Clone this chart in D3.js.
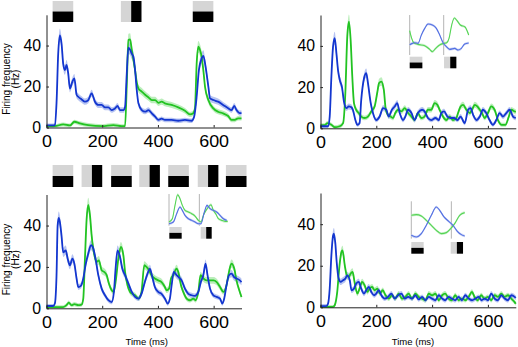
<!DOCTYPE html>
<html>
<head>
<meta charset="utf-8">
<script src="https://cdn.jsdelivr.net/npm/d3@7"></script>
<style>
body { margin: 0; background: #fff; }
svg { display: block; font-family: "Liberation Sans", Arial, sans-serif; }
</style>
</head>
<body>
<svg id="fig" width="518" height="347"></svg>
<script>
// ---- data: [time (ms), firing rate (Hz)] ----
var tlBlue = [[0,1],[25,1],[30,1.2],[36,12],[42,36],[48,45],[54,41],[60,31],[66,28],[72,30.5],[78,26.4],[84,19],[93,22.4],[100,24],[108,16],[114,15],[126,13.7],[138,12.6],[150,13.4],[162,16.7],[174,12.6],[186,11],[198,11],[210,9.8],[222,9.8],[234,8.5],[246,9.3],[255,10.5],[264,8.5],[276,8.5],[282,10],[288,26],[294,39],[300,38],[306,36],[312,34.5],[318,28],[324,18.3],[330,11.8],[342,8.5],[354,7.7],[366,8.5],[378,6.9],[390,5.3],[402,3.7],[413,4.3],[425,3.7],[449,3.7],[473,3.3],[497,3.7],[521,3.3],[530,5.3],[539,15],[547,28],[557,33.7],[563,35],[571,29.7],[581,20],[587,14.2],[599,13.4],[616,12.6],[634,11],[652,9.4],[664,8.5],[674,10.5],[682,8.5],[694,7],[700,7]];
var tlGreen = [[0,0.7],[30,0.7],[60,1.5],[84,1],[100,2.8],[120,2],[150,1.2],[200,0.7],[240,1.2],[270,0.7],[282,0.7],[288,20],[294,42.7],[300,43],[306,38],[312,33],[318,28],[324,22],[330,19],[342,17.5],[354,16],[366,14.7],[378,13.4],[390,13.4],[402,12],[413,12.6],[425,11.8],[449,11],[473,9.8],[497,8.2],[515,6.4],[527,7],[533,9.4],[539,31],[545,39.4],[551,37.8],[557,34.5],[563,28],[569,20],[581,13.4],[599,9.3],[616,7.7],[634,6.9],[652,5.6],[664,3.7],[676,3.7],[688,4.5],[700,4.5]];

var trBlue = [[0,1],[27,1],[33,5.7],[39,25],[45,39.7],[51,43.8],[57,36.5],[63,28],[69,23.5],[77,20],[84,13],[93,9.8],[101,10.6],[110,10.3],[116,9],[125,4],[132,1.7],[140,2.5],[146,13.8],[156,24.3],[164,26.8],[170,22],[180,12.2],[188,7.4],[200,4],[212,5.7],[224,9.8],[236,9],[244,5.7],[256,9],[266,10.6],[275,12.2],[284,7.4],[296,4],[304,5.7],[314,9],[326,7.4],[337,4],[349,7.4],[364,9],[373,8.2],[385,5],[397,4],[412,5],[424,4],[433,7.4],[443,8.2],[455,5.7],[467,5],[479,5],[491,4],[502,5.7],[517,2.5],[529,9],[538,9.8],[547,6.5],[559,4],[571,5.7],[582,9],[594,7.4],[606,4],[618,1.7],[630,4],[642,7.4],[654,5.7],[666,7.4],[678,9],[690,5.7],[700,5]];
var trGreen = [[0,1.5],[15,1.5],[25,2.5],[39,1.7],[51,0.5],[69,1],[81,2.5],[89,17],[96,44.6],[102,51.8],[108,43],[114,25],[120,12.2],[128,9],[137,7.4],[146,5.7],[158,5],[170,5.7],[182,8.2],[194,10.6],[203,17],[210,22],[218,22.7],[227,18.6],[234,9],[242,6.5],[251,5.7],[260,5],[268,7.4],[278,9],[290,8.2],[302,9.8],[314,7.4],[326,5.7],[337,4],[349,7.4],[361,5],[373,5.7],[385,9],[397,9],[409,12.2],[419,11.4],[427,9],[439,5.7],[451,4],[463,5.7],[475,4],[487,5],[493,7.4],[502,10.6],[511,11.4],[523,9],[535,7.4],[543,9],[553,11.4],[562,10.6],[571,9],[579,7.4],[588,5],[600,7.4],[612,10.6],[624,9],[636,4],[650,1.7],[663,1.7],[675,5.7],[684,9],[696,8.2],[700,8]];

var blBlue = [[0,1.1],[24,1.1],[30,2.3],[36,16],[40,40],[44,43.7],[48,41.8],[54,35],[60,27],[69,28],[76,24],[84,20.8],[93,24],[100,21.6],[108,14.4],[114,10.3],[124,11],[132,14.4],[140,20.8],[150,26.5],[160,30.5],[168,28.9],[176,24],[186,16],[198,9.5],[210,6.3],[222,3.9],[234,3],[242,7.9],[248,19.2],[255,28],[264,24.8],[272,19.2],[282,16],[294,12],[306,7.9],[318,5.5],[330,4.7],[341,7],[353,12.7],[365,17.6],[371,19.2],[380,15],[389,10.3],[401,7.9],[413,7],[425,4.7],[435,2.3],[443,4.7],[449,11],[457,17.6],[467,16],[475,15],[485,13.5],[497,9.5],[509,7],[521,6.3],[533,6],[545,7.9],[554,12.7],[563,16],[571,21.6],[578,16],[587,9.5],[599,6.3],[611,5.5],[623,4.7],[631,2.3],[638,4.7],[646,11],[655,16],[664,16.8],[674,15],[682,14.4],[694,13.5],[700,12.7]];
var blGreen = [[0,0.6],[60,0.6],[72,1.5],[80,2.7],[90,1.5],[100,2],[114,1.5],[126,1.8],[132,4.7],[138,24],[144,43],[150,50],[156,45],[162,35.3],[172,25.6],[180,22.4],[188,23.2],[198,18.4],[207,17.6],[216,16],[224,12],[234,8.7],[241,7.9],[248,12.7],[258,24],[267,29.7],[276,25.6],[282,17.6],[291,11],[300,7.9],[308,7],[318,6.3],[330,4.7],[341,7.9],[351,20.8],[359,20],[368,18.4],[377,16],[389,14.4],[401,13.5],[413,12.7],[425,10.3],[431,8.7],[440,9.5],[447,14.4],[455,16],[467,19.2],[473,17.6],[483,11],[491,7.9],[503,4.7],[515,3.9],[527,4.7],[535,3.9],[545,7.9],[553,16],[563,14.4],[575,13.5],[587,13.5],[599,13.5],[611,12.7],[623,10.3],[635,7.9],[646,11],[655,17.6],[664,21.6],[674,19.2],[682,13.5],[694,7.9],[700,5.5]];

var brBlue = [[0,0.6],[21,0.6],[27,1.7],[33,9],[39,25],[45,34.5],[48,35.5],[53,31],[58,21.8],[65,13.8],[72,12.2],[81,13],[89,13.8],[96,15.4],[105,13],[111,8.2],[120,9],[128,11.4],[137,12.2],[146,9],[156,6.6],[164,8.2],[173,9.8],[182,7.4],[192,5.8],[200,6.6],[209,8.2],[218,5.8],[230,4.2],[242,5],[254,6.6],[266,4.2],[278,5.8],[290,6.6],[302,4.2],[314,5],[328,4.2],[340,5.8],[352,3.8],[364,5],[376,3.4],[388,5],[400,4.2],[412,3.4],[424,5.8],[436,4.2],[447,3.4],[459,5],[471,4.2],[483,3.4],[495,5],[507,3.4],[519,5.8],[531,4.2],[543,3.4],[555,4.2],[567,5],[577,3.4],[588,4.2],[600,3.4],[612,6.6],[624,4.2],[636,3.4],[648,5.8],[660,4.2],[672,3.4],[684,5.8],[696,5],[700,4.5]];
var brGreen = [[0,0.2],[45,0.2],[51,1],[60,7.4],[67,18.6],[75,26.6],[79,27.4],[87,20.2],[94,15.4],[101,14.6],[108,16.2],[115,17],[122,12.2],[132,6.6],[140,9],[149,12.2],[158,10.6],[168,7.4],[176,9],[185,9.8],[194,8.2],[204,9],[213,6.6],[223,8.2],[233,5.8],[245,4.2],[256,5.8],[268,4.2],[280,6.6],[292,4.2],[304,5],[316,6.6],[328,4.2],[340,6.6],[352,5],[364,4.2],[376,3.4],[388,6.6],[400,5.8],[412,6.6],[424,3.4],[436,5.8],[447,6.6],[459,4.2],[471,3.4],[483,5.8],[495,3.4],[507,4.2],[519,3.4],[531,5],[543,7.4],[552,5],[564,3.4],[576,5.8],[588,4.2],[600,5],[612,3.4],[624,5.8],[636,5],[648,6.6],[660,5],[672,5.8],[684,4.2],[696,2.5],[700,1.7]];

// stimulus frames: [onset, offset, layout] tb = grey over black, lr = grey left of black
var tlStim = [[22,96,"tb"],[267,341,"lr"],[525,599,"tb"]];
var blStim = [[22,96,"tb"],[126,200,"lr"],[232,306,"tb"],[333,407,"lr"],[437,511,"tb"],[543,617,"lr"],[644,718,"tb"]];

// insets: [time (ms), relative rate]
var trInsetBlue = [[0,36],[8,40],[15,42],[25,40],[35,65],[45,85],[55,98],[68,95],[80,85],[90,65],[100,42],[110,30],[120,22],[135,25],[145,20],[155,25],[165,38],[177,41]];
var trInsetGreen = [[0,78],[6,55],[12,42],[25,37],[45,33],[60,22],[68,15],[78,25],[91,36],[103,40],[111,42],[118,55],[126,95],[134,116],[142,108],[152,95],[166,89],[177,65]];
var trInsetMarks = [0,102];
var trInsetStim = [[0,38,"tb"],[103,140,"lr"]];

var blInsetGreen = [[0,20],[10,30],[18,70],[26,102],[33,90],[40,70],[48,55],[58,50],[68,45],[78,38],[88,25],[96,20],[103,40],[111,55],[118,65],[126,72],[133,55],[140,45],[148,30],[158,25],[168,22],[176,22]];
var blInsetBlue = [[0,15],[13,20],[23,45],[33,65],[40,55],[48,40],[58,30],[68,25],[78,20],[88,15],[96,15],[106,50],[114,70],[123,60],[133,55],[143,50],[153,40],[163,30],[173,25]];
var blInsetMarks = [0,91];
var blInsetStim = [[1,38,"tb"],[95,128,"lr"]];

var brInsetGreen = [[0,75],[15,77],[30,73],[45,60],[60,45],[75,30],[90,20],[105,23],[118,35],[130,50],[145,75],[160,83]];
var brInsetBlue = [[0,15],[15,10],[30,20],[45,45],[60,75],[75,100],[85,90],[98,70],[112,57],[125,45],[138,27],[150,17],[160,13]];
var brInsetMarks = [0,120];
var brInsetStim = [[0,37,"tb"],[118,155,"lr"]];

var xTicks = [0, 200, 400, 600];
var yTicks = [0, 20, 40];

// ---- style ----
var colors = {
    blue: "#1336cf", green: "#22c322",
    blueBand: "#9fb0ee", greenBand: "#a6e8a6",
    insetBlue: "#5370e2", insetGreen: "#55d455",
    insetBlueBand: "#b9c5f3", insetGreenBand: "#bdeebd",
    grey: "#d5d5d5", axis: "#222"
};

var svg = d3.select("#fig");

var panels = [
    { xr: [46.5, 241.5], yr: [127.5, 14.8], blue: tlBlue, green: tlGreen, stim: tlStim, stimY: [1, 22], ylab: 79 },
    { xr: [320.5, 515.8], yr: [128.3, 15], blue: trBlue, green: trGreen,
      inset: { xr: [409.7, 468.7], yr: [56.7, 16.7], vmax: 120, lines: [125, 5], barY: [56.7, 68.3], blue: trInsetBlue, green: trInsetGreen, marks: trInsetMarks, stim: trInsetStim, tmax: 177 } },
    { xr: [46.5, 241.5], yr: [308.3, 194.5], blue: blBlue, green: blGreen, stim: blStim, stimY: [165, 187], ylab: 259.5, xlab: 146.7,
      inset: { xr: [169, 227.7], yr: [228.7, 193.7], vmax: 105, lines: [104, 9], barY: [227, 238.7], blue: blInsetBlue, green: blInsetGreen, marks: blInsetMarks, stim: blInsetStim, tmax: 176 } },
    { xr: [320.5, 515.8], yr: [307.3, 193], blue: brBlue, green: brGreen, xlab: 413,
      inset: { xr: [411.3, 464.7], yr: [240.3, 201.3], vmax: 117, lines: [117, 5], barY: [242, 253.7], blue: brInsetBlue, green: brInsetGreen, marks: brInsetMarks, stim: brInsetStim, tmax: 160 } }
];

function drawStim(g, stim, x, y0, y1) {
    stim.forEach(function(s) {
        var a = x(s[0]), b = x(s[1]);
        if (s[2] === "tb") {
            var ym = (y0 + y1) / 2;
            g.append("rect").attr("x", a).attr("y", y0).attr("width", b - a).attr("height", ym - y0).attr("fill", colors.grey);
            g.append("rect").attr("x", a).attr("y", ym).attr("width", b - a).attr("height", y1 - ym).attr("fill", "#000");
        } else {
            var xm = (a + b) / 2;
            g.append("rect").attr("x", a).attr("y", y0).attr("width", xm - a).attr("height", y1 - y0).attr("fill", colors.grey);
            g.append("rect").attr("x", xm).attr("y", y0).attr("width", b - xm).attr("height", y1 - y0).attr("fill", "#000");
        }
    });
}

function drawTraces(g, x, y, series, sem, width) {
    var area = d3.area()
        .x(d => x(d[0]))
        .y0(d => y(Math.max(0, d[1] - sem(d[1]))))
        .y1(d => y(d[1] + sem(d[1])))
        .curve(d3.curveMonotoneX);
    var line = d3.line()
        .x(d => x(d[0]))
        .y(d => y(d[1]))
        .curve(d3.curveMonotoneX);
    series.forEach(s => {
        g.append("path").datum(s[0]).attr("d", area).attr("fill", s[2]).attr("opacity", 0.75);
    });
    series.forEach(s => {
        g.append("path").datum(s[0]).attr("d", line).attr("fill", "none")
            .attr("stroke", s[1]).attr("stroke-width", width).attr("stroke-linejoin", "round");
    });
}

function drawInset(ins) {
    var g = svg.append("g");
    var x = d3.scaleLinear().domain([0, ins.tmax]).range(ins.xr);
    var y = d3.scaleLinear().domain([0, ins.vmax]).range(ins.yr);

    g.selectAll("line.mark").data(ins.marks).enter().append("line")
        .attr("x1", d => x(d)).attr("x2", d => x(d))
        .attr("y1", y(ins.lines[0])).attr("y2", y(ins.lines[1]))
        .attr("stroke", "#b4b4b4").attr("stroke-width", 1);

    drawTraces(g, x, y, [[ins.green, colors.insetGreen, colors.insetGreenBand], [ins.blue, colors.insetBlue, colors.insetBlueBand]],
        () => 4, 1.1);

    drawStim(g, ins.stim, x, ins.barY[0], ins.barY[1]);
}

function drawPanel(p) {
    var x = d3.scaleLinear().domain([0, 700]).range(p.xr);
    var y = d3.scaleLinear().domain([0, 55]).range(p.yr);
    var g = svg.append("g");

    if (p.stim) drawStim(g, p.stim, x, p.stimY[0], p.stimY[1]);

    drawTraces(g, x, y, [[p.green, colors.green, colors.greenBand], [p.blue, colors.blue, colors.blueBand]],
        v => 0.9 + 0.05 * v, 1.8);

    //axes, ticks pointing inward like the matlab original
    var xa = g.append("g")
        .attr("transform", `translate(0,${p.yr[0]})`)
        .call(d3.axisBottom(x).tickValues(xTicks).tickSizeInner(-2.5).tickSizeOuter(0).tickPadding(8));
    var ya = g.append("g")
        .attr("transform", `translate(${p.xr[0]},0)`)
        .call(d3.axisLeft(y).tickValues(yTicks).tickSizeInner(-2.5).tickSizeOuter(0).tickPadding(5.5));

    [xa, ya].forEach(a => {
        a.attr("font-family", null).attr("font-size", null).attr("color", colors.axis);
        a.selectAll("text").attr("fill", "#000");
    });
    xa.selectAll("text").attr("font-size", 16).attr("transform", "scale(1.12,1)");
    ya.selectAll("text").attr("font-size", 15.8);

    if (p.ylab) {
        g.append("text").attr("transform", `translate(9.8,${p.ylab}) rotate(-90)`)
            .attr("text-anchor", "middle").attr("font-size", 10).text("Firing frequency");
        g.append("text").attr("transform", `translate(18.8,${p.ylab}) rotate(-90)`)
            .attr("text-anchor", "middle").attr("font-size", 10).text("(Hz)");
    }
    if (p.xlab) {
        g.append("text").attr("transform", `translate(${p.xlab},344.5) scale(1.15,1)`)
            .attr("text-anchor", "middle").attr("font-size", 8.3).text("Time (ms)");
    }

    if (p.inset) drawInset(p.inset);
}

panels.forEach(drawPanel);
</script>
</body>
</html>
